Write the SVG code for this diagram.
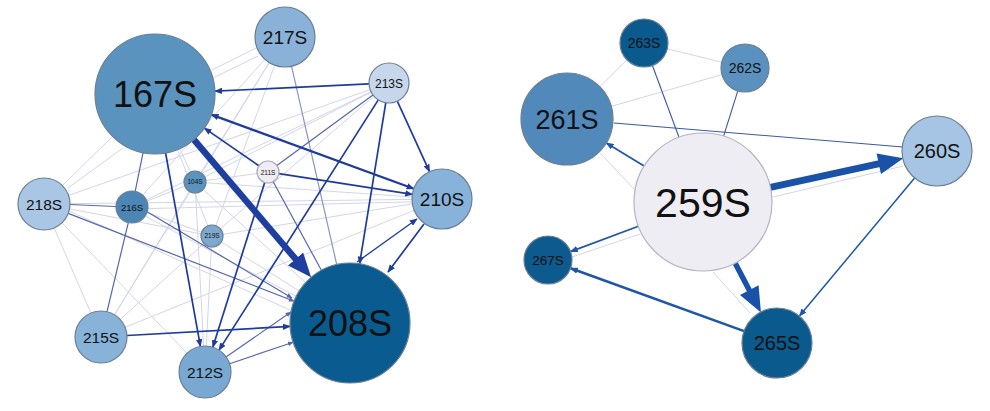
<svg xmlns="http://www.w3.org/2000/svg" width="990" height="411" viewBox="0 0 990 411">
<defs>
<style>
.el{stroke:#d2d5ea;stroke-width:1;fill:none}
.em{stroke:#5566b0;stroke-width:1.2;fill:none}
.emr{stroke:#3a58a8;stroke-width:1.1;fill:none}
.ed{stroke:#1f3c9c;stroke-width:1.7;fill:none}
.edr{stroke:#1d56aa;stroke-width:1.7;fill:none}
.n circle{stroke:#6b7f93;stroke-width:1.2}
.n text{font-family:"Liberation Sans",Arial,sans-serif;fill:#111;text-anchor:middle}
</style>
<marker id="ahL" viewBox="0 0 10 8" refX="9" refY="4" markerWidth="8" markerHeight="6.4" markerUnits="userSpaceOnUse" orient="auto-start-reverse"><path d="M0,0 L10,4 L0,8 z" fill="#1f3c9c"/></marker>
<marker id="ahM" viewBox="0 0 10 8" refX="9" refY="4" markerWidth="6" markerHeight="4.8" markerUnits="userSpaceOnUse" orient="auto"><path d="M0,0 L10,4 L0,8 z" fill="#5566b0"/></marker>
<marker id="ahR" viewBox="0 0 10 8" refX="9" refY="4" markerWidth="8" markerHeight="6.4" markerUnits="userSpaceOnUse" orient="auto"><path d="M0,0 L10,4 L0,8 z" fill="#1d56aa"/></marker>
<marker id="bigL" viewBox="0 0 12 10" refX="6.5" refY="5" markerWidth="24" markerHeight="20" markerUnits="userSpaceOnUse" orient="auto"><path d="M0,0 L12,5 L0,10 z" fill="#1e3fa0"/></marker>
<marker id="bigR" viewBox="0 0 12 10" refX="6.5" refY="5" markerWidth="26" markerHeight="21" markerUnits="userSpaceOnUse" orient="auto"><path d="M0,0 L12,5 L0,10 z" fill="#1a52a8"/></marker>
</defs>
<rect width="990" height="411" fill="#fff"/>
<g id="connectors">
<line class="el" x1="112" y1="137" x2="63" y2="185"/>
<line class="el" x1="123" y1="148" x2="68" y2="188"/>
<line class="el" x1="256" y1="48" x2="212" y2="70"/>
<line class="el" x1="258" y1="56" x2="213" y2="78"/>
<line class="el" x1="264.9" y1="59.3" x2="142.7" y2="195.1"/>
<line class="el" x1="269.2" y1="62.5" x2="200.8" y2="172.7"/>
<line class="el" x1="274.7" y1="65.2" x2="215.8" y2="225.7"/>
<line class="el" x1="269.3" y1="62.6" x2="114.6" y2="314.8"/>
<line class="el" x1="371.2" y1="92.1" x2="204.8" y2="177"/>
<line class="el" x1="373.9" y1="96.1" x2="220.3" y2="228.8"/>
<line class="el" x1="371" y1="91.7" x2="146.4" y2="200"/>
<line class="el" x1="370.1" y1="89.6" x2="68.5" y2="195.4"/>
<line class="el" x1="412" y1="199.4" x2="70" y2="203.7"/>
<line class="el" x1="412" y1="201.8" x2="148" y2="208.6"/>
<line class="el" x1="412.1" y1="196.9" x2="206" y2="182.8"/>
<line class="el" x1="412.4" y1="203.8" x2="222.9" y2="234.3"/>
<line class="el" x1="414.2" y1="210.3" x2="125.1" y2="327.3"/>
<line class="el" x1="54.2" y1="227.9" x2="90.8" y2="313.1"/>
<line class="el" x1="69.5" y1="208.9" x2="201.2" y2="233.9"/>
<line class="el" x1="195.6" y1="193" x2="203.6" y2="346"/>
<line class="el" x1="189.3" y1="191.4" x2="114.5" y2="314.8"/>
<line class="el" x1="203.9" y1="243.4" x2="120.2" y2="319.5"/>
<line class="el" x1="211.4" y1="247" x2="206.3" y2="346"/>
<line class="el" x1="203.1" y1="189.4" x2="305.6" y2="282.6"/>
<line class="el" x1="221.3" y1="241.9" x2="299.2" y2="291"/>
<line class="el" x1="146.1" y1="216.5" x2="297" y2="296.8"/>
<line class="el" x1="62" y1="222.8" x2="187" y2="353.2"/>
<line class="el" x1="184.8" y1="186.1" x2="146.9" y2="201.1"/>
<line class="el" x1="147" y1="212.5" x2="201.7" y2="232.3"/>
<line class="el" x1="179.8" y1="148.6" x2="190.4" y2="172"/>
<line class="el" x1="177.4" y1="149.7" x2="207.9" y2="225.8"/>
<line class="el" x1="257" y1="173.5" x2="206" y2="180.5"/>
<line class="el" x1="69" y1="211" x2="290" y2="310"/>
<line class="em" x1="70" y1="204.5" x2="116" y2="206.5"/>
<line class="em" x1="128.3" y1="222.6" x2="107" y2="311.7"/>
<line class="em" x1="143" y1="152.8" x2="135.2" y2="191.3"/>
<line class="em" x1="68.2" y1="213.4" x2="294.1" y2="301.3" marker-end="url(#ahM)"/>
<line class="em" x1="147.5" y1="212" x2="292" y2="298" marker-end="url(#ahM)"/>
<line class="em" x1="291.6" y1="66.3" x2="336.7" y2="264.5" style="stroke:#8a95c8"/>
<line class="em" x1="273.2" y1="181.7" x2="321.4" y2="270.3"/>
<line class="em" x1="372.9" y1="94.9" x2="276.9" y2="165.5"/>
<line class="em" x1="229.6" y1="363.7" x2="293.2" y2="342.2" marker-end="url(#ahM)"/>
<line class="em" x1="226" y1="357" x2="291" y2="312" marker-end="url(#ahM)"/>
<line class="ed" x1="369" y1="83.9" x2="214.9" y2="91.2" marker-end="url(#ahL)"/>
<line class="ed" x1="413.8" y1="188.7" x2="211.3" y2="114.6" style="stroke-width:2.2" marker-start="url(#ahL)" marker-end="url(#ahL)"/>
<line class="ed" x1="258.9" y1="165.8" x2="204.4" y2="128.1" marker-end="url(#ahL)"/>
<line class="ed" x1="278.9" y1="173.7" x2="412.4" y2="194.4" marker-end="url(#ahL)"/>
<line class="ed" x1="397.3" y1="101.2" x2="429.5" y2="171.7" marker-end="url(#ahL)"/>
<line class="ed" x1="385.8" y1="102.7" x2="359.6" y2="263.8" marker-end="url(#ahL)"/>
<line class="ed" x1="378.3" y1="99.9" x2="219" y2="350.1" marker-end="url(#ahL)"/>
<line class="ed" x1="165.6" y1="153" x2="200.4" y2="346.4" marker-end="url(#ahL)"/>
<line class="ed" x1="264.7" y1="182.5" x2="212.8" y2="347.2" marker-end="url(#ahL)"/>
<line class="ed" x1="127" y1="335.5" x2="290.1" y2="326.4" marker-end="url(#ahL)"/>
<line class="ed" x1="357" y1="262" x2="417" y2="219" style="stroke-width:1.3" marker-end="url(#ahL)"/>
<line class="ed" x1="424" y1="224" x2="388" y2="272" marker-end="url(#ahL)"/>
<line x1="193.9" y1="139.7" x2="304" y2="268.9" stroke="#1e3fa0" stroke-width="6.5" marker-end="url(#bigL)"/>
<line class="el" x1="667.3" y1="48.8" x2="721.7" y2="62.2"/>
<line class="el" x1="626.9" y1="59.9" x2="599.8" y2="86.7"/>
<line class="el" x1="721.9" y1="74.6" x2="611.2" y2="106.4"/>
<line class="el" x1="600" y1="153" x2="635" y2="190"/>
<line class="el" x1="773" y1="197" x2="903" y2="166"/>
<line class="el" x1="713" y1="272" x2="750" y2="313"/>
<line class="el" x1="640" y1="234" x2="572" y2="257"/>
<line class="emr" x1="652.4" y1="65.5" x2="679" y2="137.3"/>
<line class="emr" x1="737.8" y1="90.9" x2="723.6" y2="136.2"/>
<line class="emr" x1="614" y1="123" x2="903" y2="147"/>
<line class="edr" x1="644.1" y1="166" x2="606.3" y2="143" marker-end="url(#ahR)"/>
<line class="edr" x1="914.6" y1="177.9" x2="799.4" y2="316.1" style="stroke-width:1.5" marker-end="url(#ahR)"/>
<line class="edr" x1="744.1" y1="331.1" x2="570.6" y2="268.2" style="stroke-width:2.6" marker-end="url(#ahR)"/>
<line class="edr" x1="638.4" y1="226.2" x2="570.5" y2="251.6" marker-end="url(#ahR)"/>
<line x1="770.4" y1="187.3" x2="892.1" y2="160.8" stroke="#1a52a8" stroke-width="7" marker-end="url(#bigR)"/>
<line x1="735.1" y1="263.1" x2="755.6" y2="302.3" stroke="#1a52a8" stroke-width="5.5" marker-end="url(#bigR)"/>
</g>
<g id="n167S" class="n"><circle cx="155" cy="94" r="60" fill="#5b93bf"/><text x="155" y="107" font-size="36">167S</text></g>
<g id="n217S" class="n"><circle cx="285" cy="37" r="30" fill="#8ab2d9"/><text x="285" y="44" font-size="19">217S</text></g>
<g id="n213S" class="n"><circle cx="389" cy="83" r="20" fill="#c6d7ec"/><text x="389" y="87.5" font-size="12">213S</text></g>
<g id="n211S" class="n"><circle cx="268" cy="172" r="11" fill="#efedf3" style="stroke:#a9a9bb"/><text x="268" y="174.5" font-size="6.5">211S</text></g>
<g id="n210S" class="n"><circle cx="442" cy="199" r="30" fill="#87b2da"/><text x="442" y="206" font-size="19">210S</text></g>
<g id="n208S" class="n"><circle cx="350" cy="323" r="60" fill="#0a5b8f"/><text x="350" y="336" font-size="36">208S</text></g>
<g id="n218S" class="n"><circle cx="44" cy="204" r="26" fill="#a9c6e4"/><text x="44" y="209.5" font-size="15.5">218S</text></g>
<g id="n216S" class="n"><circle cx="132" cy="207" r="16" fill="#4c86b4"/><text x="132" y="210.5" font-size="9.5">216S</text></g>
<g id="n104S" class="n"><circle cx="195" cy="182" r="11" fill="#5b93bf"/><text x="195" y="184.3" font-size="6.5">104S</text></g>
<g id="n219S" class="n"><circle cx="212" cy="236" r="11" fill="#7fa8cf"/><text x="212" y="238.3" font-size="6.5">219S</text></g>
<g id="n215S" class="n"><circle cx="101" cy="337" r="26" fill="#88b3d9"/><text x="101" y="342.5" font-size="15.5">215S</text></g>
<g id="n212S" class="n"><circle cx="205" cy="372" r="26" fill="#79a9d3"/><text x="205" y="377.5" font-size="15.5">212S</text></g>
<g id="n263S" class="n"><circle cx="644" cy="43" r="24" fill="#0b5a8e"/><text x="644" y="48" font-size="14">263S</text></g>
<g id="n262S" class="n"><circle cx="745" cy="68" r="24" fill="#5a91be"/><text x="745" y="73" font-size="14">262S</text></g>
<g id="n261S" class="n"><circle cx="567" cy="119" r="46" fill="#5189bb"/><text x="567" y="128.5" font-size="27">261S</text></g>
<g id="n259S" class="n"><circle cx="703" cy="202" r="69" fill="#eeedf4" style="stroke:#b4b4c4"/><text x="703" y="216.5" font-size="41">259S</text></g>
<g id="n260S" class="n"><circle cx="937" cy="151" r="35" fill="#a6c5e4"/><text x="937" y="158" font-size="20">260S</text></g>
<g id="n267S" class="n"><circle cx="548" cy="260" r="24" fill="#0c5a8e"/><text x="548" y="265" font-size="13.5">267S</text></g>
<g id="n265S" class="n"><circle cx="777" cy="343" r="35" fill="#0b5a8e"/><text x="777" y="350" font-size="20">265S</text></g>
</svg>
